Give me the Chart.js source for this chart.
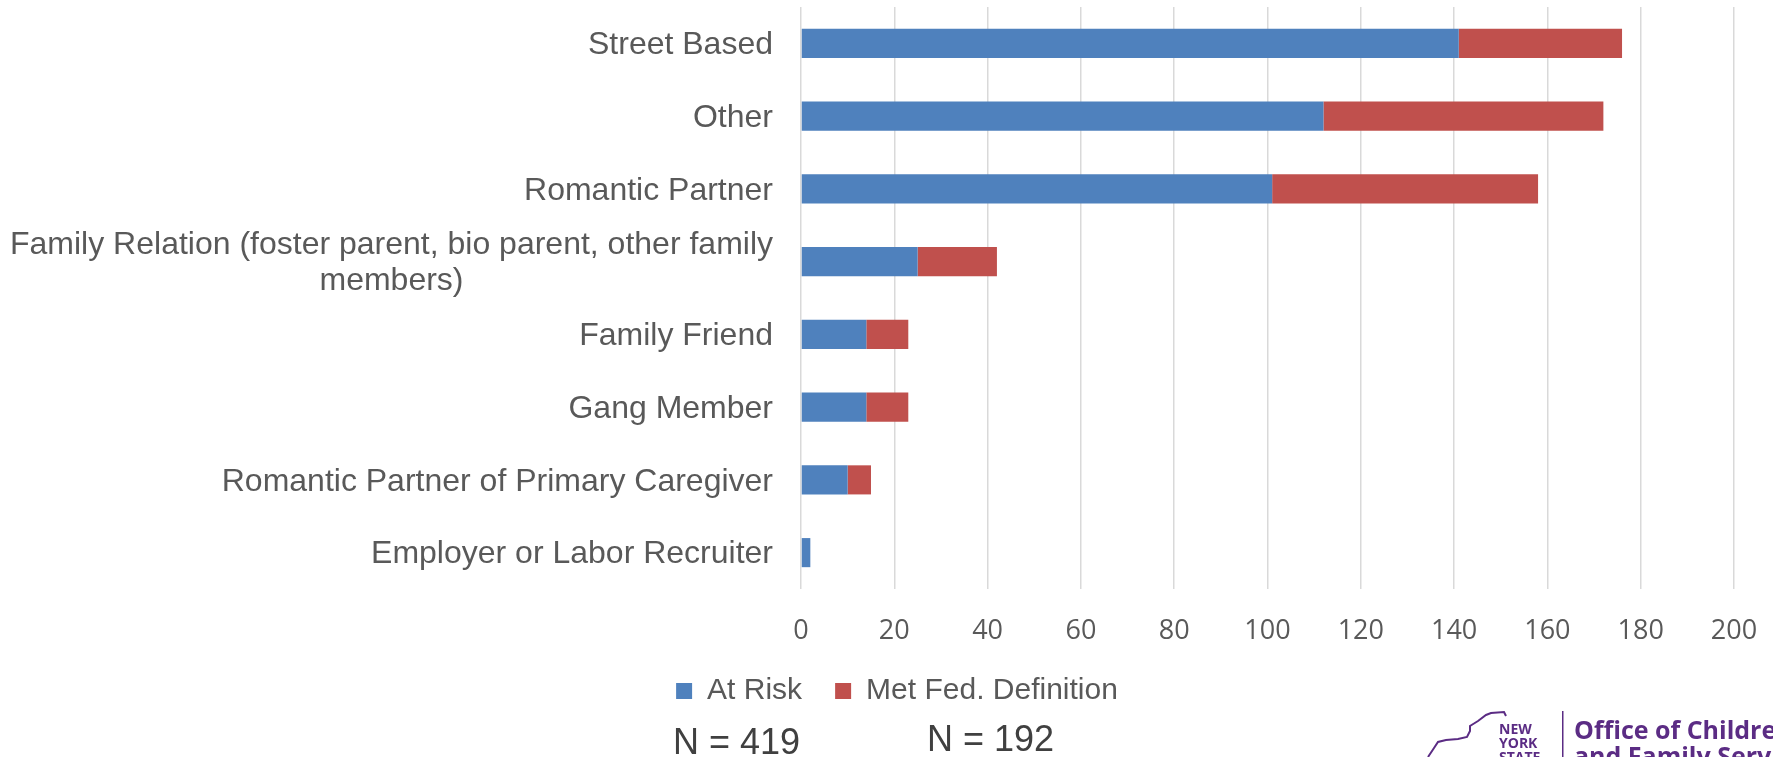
<!DOCTYPE html>
<html>
<head>
<meta charset="utf-8">
<script src="https://cdn.jsdelivr.net/npm/chart.js@4/dist/chart.umd.min.js"></script>
<style>
  html, body { margin: 0; padding: 0; background: #ffffff; }
  #wrap { width: 1773px; height: 757px; position: relative; }
</style>
</head>
<body>
<div id="wrap"><canvas id="c" width="1773" height="757"></canvas></div>
<script>
// ---- data ----
const categories = [
  'Street Based',
  'Other',
  'Romantic Partner',
  ['Family Relation (foster parent, bio parent, other family', 'members)'],
  'Family Friend',
  'Gang Member',
  'Romantic Partner of Primary Caregiver',
  'Employer or Labor Recruiter'
];
const atRisk = [141, 112, 101, 25, 14, 14, 10, 2];
const metFed = [35, 60, 57, 17, 9, 9, 5, 0];
const seriesNames = ['At Risk', 'Met Fed. Definition'];
const nLabels = ['N = 419', 'N = 192'];
const logoSmall = ['NEW', 'YORK', 'STATE'];
const logoLarge = ['Office of Children', 'and Family Services'];

const LABEL_FONT = '"Liberation Sans", Arial, sans-serif';
const GREY = '#595959';
const PLOT_LEFT = 801;
const PAD_LEFT = 60;

const yLabelsPlugin = {
  id: 'yLabels',
  afterDraw(chart) {
    const ctx = chart.ctx;
    const ys = chart.scales.y;
    ctx.save();
    ctx.font = '32px ' + LABEL_FONT;
    ctx.fillStyle = GREY;
    ctx.textBaseline = 'middle';
    const right = 773;
    categories.forEach((lab, i) => {
      const yc = ys.getPixelForValue(i) + 2;
      const lines = Array.isArray(lab) ? lab : [lab];
      const widths = lines.map(l => ctx.measureText(l).width);
      const blockW = Math.max(...widths);
      const cx = right - blockW / 2;
      const lh = 36;
      lines.forEach((l, k) => {
        const y = yc + (k - (lines.length - 1) / 2) * lh;
        ctx.textAlign = 'center';
        ctx.fillText(l, cx, y);
      });
    });
    ctx.restore();
  }
};

const extrasPlugin = {
  id: 'extras',
  afterDraw(chart) {
    const ctx = chart.ctx;
    ctx.save();
    // N labels
    ctx.font = '36px ' + LABEL_FONT;
    ctx.fillStyle = '#404040';
    ctx.textBaseline = 'alphabetic';
    ctx.textAlign = 'left';
    ctx.fillText(nLabels[0], 673, 754);
    ctx.fillText(nLabels[1], 927, 751);
    // logo
    const purple = '#5b2c84';
    ctx.strokeStyle = purple;
    ctx.lineWidth = 2;
    ctx.beginPath();
    const pts = [[1428,757],[1434,748],[1438,742],[1446,740],[1458,739],[1467,737],[1470,731],[1470,726],[1478,721],[1486,715],[1491,713],[1504,712],[1506,716]];
    pts.forEach((p, i) => i ? ctx.lineTo(p[0], p[1]) : ctx.moveTo(p[0], p[1]));
    ctx.stroke();
    ctx.fillStyle = purple;
    ctx.font = 'bold 14px "Open Sans", sans-serif';
    ctx.textAlign = 'left';
    ctx.fillText(logoSmall[0], 1499, 734);
    ctx.fillText(logoSmall[1], 1499, 748);
    ctx.fillText(logoSmall[2], 1499, 762);
    ctx.fillRect(1562, 711, 1.5, 50);
    ctx.font = 'bold 25px "Open Sans", sans-serif';
    ctx.fillText(logoLarge[0], 1574, 739);
    ctx.fillText(logoLarge[1], 1574, 765);
    ctx.restore();
  }
};

new Chart(document.getElementById('c'), {
  type: 'bar',
  data: {
    labels: categories,
    datasets: [
      { label: seriesNames[0], data: atRisk, backgroundColor: '#4f81bd', borderWidth: 0 },
      { label: seriesNames[1], data: metFed, backgroundColor: '#c0504d', borderWidth: 0 }
    ]
  },
  options: {
    indexAxis: 'y',
    responsive: false,
    animation: false,
    devicePixelRatio: 1,
    layout: { padding: { top: 7, right: 39, bottom: 41, left: PAD_LEFT } },
    datasets: { bar: { categoryPercentage: 1, barPercentage: 0.4 } },
    scales: {
      x: {
        stacked: true,
        min: 0, max: 200,
        ticks: { stepSize: 20, color: GREY, padding: 26, font: { family: '"Open Sans", sans-serif', size: 27 } },
        grid: { color: '#d9d9d9', lineWidth: 1.5, drawTicks: false },
        border: { display: false },
        afterFit(s) { s.height = 79; s.paddingRight = 0; }
      },
      y: {
        stacked: true,
        ticks: { display: false },
        grid: { display: false },
        border: { display: false },
        afterFit(s) { s.width = PLOT_LEFT - PAD_LEFT; }
      }
    },
    plugins: {
      tooltip: { enabled: false },
      legend: {
        position: 'bottom',
        labels: {
          color: GREY,
          font: { family: LABEL_FONT, size: 30 },
          boxWidth: 16, boxHeight: 16,
          padding: 8,
          generateLabels(chart) {
            const items = Chart.defaults.plugins.legend.labels.generateLabels(chart);
            if (items[0]) items[0].text = items[0].text + '   ';
            items.forEach(it => { it.lineWidth = 0; });
            return items;
          }
        }
      }
    }
  },
  plugins: [yLabelsPlugin, extrasPlugin]
});
</script>
</body>
</html>
